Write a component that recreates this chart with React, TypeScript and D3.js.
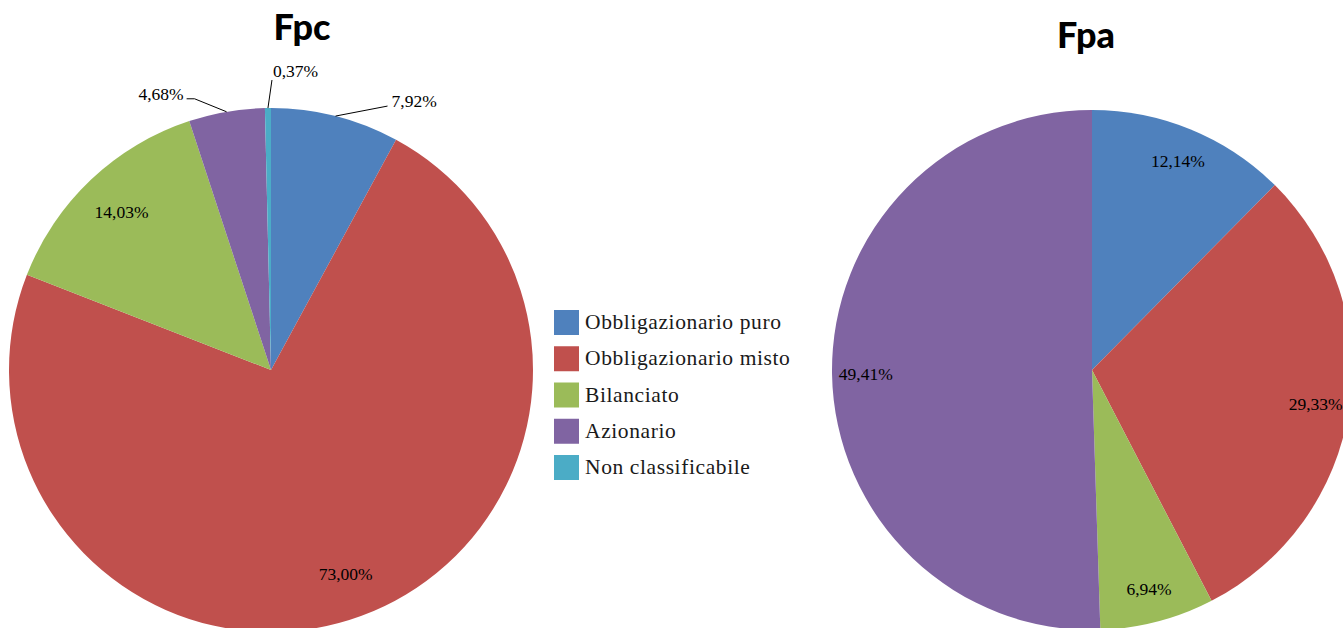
import React from "react";
import * as d3 from "d3";

const categories = [
  "Obbligazionario puro",
  "Obbligazionario misto",
  "Bilanciato",
  "Azionario",
  "Non classificabile",
];
const fpcValues = [7.92, 73.0, 14.03, 4.68, 0.37];
const fpaValues = [12.14, 29.33, 6.94, 49.41, 0];
const colors = ["#4F81BD", "#C0504D", "#9BBB59", "#8064A2", "#4BACC6"];

// leader-line callouts for the small Fpc slices (offsets from arc edge)
type Callout = { dx: number; dy: number; tail: number };
const fpcCallouts: { [k: number]: Callout } = {
  0: { dx: 52, dy: -10, tail: 0 },
  3: { dx: -32, dy: -13, tail: -8 },
  4: { dx: 4, dy: -28, tail: 0 },
};

const SERIF = '"Liberation Serif"';
const fmt = (v: number) => v.toFixed(2).replace(".", ",") + "%";

const pie = d3
  .pie<number>()
  .sort(null)
  .value((d) => d);

interface PieProps {
  values: number[];
  cx: number;
  cy: number;
  r: number;
  title: string;
  tx: number;
  ty: number;
  labelFactor: number;
  callouts: { [k: number]: Callout };
}

const Pie: React.FC<PieProps> = ({ values, cx, cy, r, title, tx, ty, labelFactor, callouts }) => {
  const arcs = pie(values);
  const arc = d3.arc<d3.PieArcDatum<number>>().innerRadius(0).outerRadius(r);
  const labelArc = d3
    .arc<d3.PieArcDatum<number>>()
    .innerRadius(r * labelFactor)
    .outerRadius(r * labelFactor);
  const edgeArc = d3.arc<d3.PieArcDatum<number>>().innerRadius(r).outerRadius(r);

  return (
    <g>
      <g transform={`translate(${cx},${cy})`}>
        {arcs.map((a, i) => (
          <path key={i} d={arc(a) || ""} fill={colors[i]} />
        ))}
        {arcs.map((a, i) => {
          if (a.data <= 0) return null;
          const co = callouts[i];
          if (co) {
            const [ex, ey] = edgeArc.centroid(a);
            const pts: [number, number][] = [
              [ex, ey],
              [ex + co.dx, ey + co.dy],
            ];
            if (co.tail) pts.push([ex + co.dx + co.tail, ey + co.dy]);
            const last = pts[pts.length - 1];
            const right = co.dx > 10;
            const up = co.dy < -20;
            return (
              <g key={"l" + i}>
                <path d={d3.line()(pts) || ""} fill="none" stroke="#000" strokeWidth={1} />
                <text
                  x={up ? last[0] + 1 : right ? last[0] + 4 : last[0] - 3}
                  y={up ? last[1] - 3 : last[1] + 1}
                  textAnchor={up || right ? "start" : "end"}
                  fontSize={17.5}
                  fill="#000"
                  style={{ fontFamily: SERIF }}
                >
                  {fmt(a.data)}
                </text>
              </g>
            );
          }
          const [lx, ly] = labelArc.centroid(a);
          return (
            <text
              key={"l" + i}
              x={lx}
              y={ly}
              dy="0.35em"
              textAnchor="middle"
              fontSize={17.5}
              fill="#000"
              style={{ fontFamily: SERIF }}
            >
              {fmt(a.data)}
            </text>
          );
        })}
      </g>
      <text
        x={tx}
        y={ty}
        textAnchor="middle"
        fontSize={36}
        fontWeight={900}
        fill="#000"
        style={{ fontFamily: '"Lato"' }}
      >
        {title}
      </text>
    </g>
  );
};

const App: React.FC = () => {
  const rowY = d3.scalePoint<string>().domain(categories).range([0, 145]);
  return (
    <svg
      width={1343}
      height={628}
      style={{ position: "absolute", left: 0, top: 0, background: "#fff" }}
    >
      <Pie values={fpcValues} cx={271} cy={370} r={262} title="Fpc" tx={302} ty={40} labelFactor={0.83} callouts={fpcCallouts} />
      <Pie values={fpaValues} cx={1092} cy={370} r={260} title="Fpa" tx={1086} ty={48} labelFactor={0.87} callouts={{}} />
      <g transform="translate(554,310)">
        {categories.map((c, i) => {
          const y = rowY(c) as number;
          return (
            <g key={c}>
              <rect x={0} y={y} width={25} height={25} fill={colors[i]} />
              <text
                x={31}
                y={y + 19}
                fontSize={21.5}
                letterSpacing={0.6}
                fill="#1a1a1a"
                style={{ fontFamily: SERIF }}
              >
                {c}
              </text>
            </g>
          );
        })}
      </g>
    </svg>
  );
};

export default App;
